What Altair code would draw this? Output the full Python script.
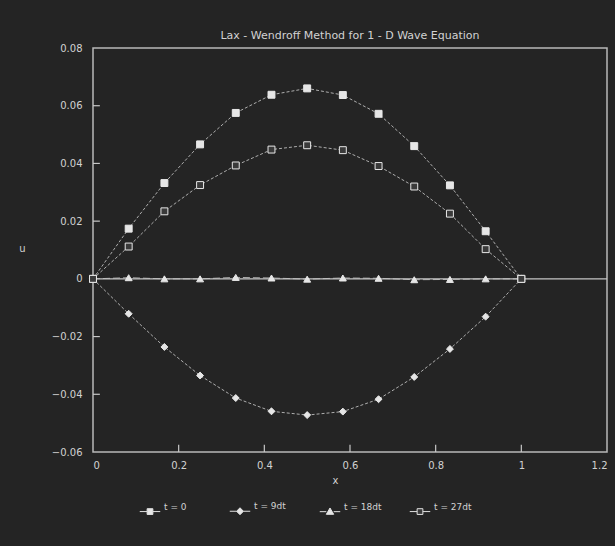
import altair as alt
import pandas as pd

# ---- data ----
x_vals = [0.0, 0.0833, 0.1667, 0.25, 0.3333, 0.4167, 0.5, 0.5833, 0.6667, 0.75, 0.8333, 0.9167, 1.0]
u_t0 = [0.0, 0.0174, 0.0332, 0.0466, 0.0575, 0.0638, 0.0660, 0.0637, 0.0572, 0.0460, 0.0324, 0.0165, 0.0]
u_t9 = [0.0, -0.0121, -0.0236, -0.0335, -0.0413, -0.0459, -0.0472, -0.0460, -0.0417, -0.0340, -0.0243, -0.0131, 0.0]
u_t18 = [0.0, 0.0004, 0.0, 0.0, 0.0005, 0.0003, -0.0001, 0.0003, 0.0002, -0.0003, -0.0002, 0.0, 0.0]
u_t27 = [0.0, 0.0112, 0.0234, 0.0325, 0.0393, 0.0448, 0.0463, 0.0446, 0.0391, 0.0320, 0.0226, 0.0103, 0.0]
series_names = ["t = 0", "t = 9dt", "t = 18dt", "t = 27dt"]
x_ticks = [0, 0.2, 0.4, 0.6, 0.8, 1.0, 1.2]
y_ticks = [-0.06, -0.04, -0.02, 0, 0.02, 0.04, 0.06, 0.08]
x_inner_ticks = [0.2, 0.4, 0.6, 0.8, 1.0]
y_inner_ticks = [-0.04, -0.02, 0.02, 0.04, 0.06]
title_text = "Lax - Wendroff Method for 1 - D Wave Equation"

rows = []
for name, vals in zip(series_names, [u_t0, u_t9, u_t18, u_t27]):
    for xv, uv in zip(x_vals, vals):
        rows.append({"x": xv, "u": uv, "series": name})
df = pd.DataFrame(rows)
zero_df = pd.DataFrame({"u": [0.0]})
xt_df = pd.DataFrame({"v": x_inner_ticks})
yt_df = pd.DataFrame({"v": y_inner_ticks})

FG = "#d2d2d2"
BG = "#242424"
FONT = "DejaVu Sans"
FILLS = ["#e6e6e6", "#e6e6e6", "#e6e6e6", "#3a3a3a"]

xscale = alt.Scale(domain=[0, 1.2], nice=False, zero=False)
yscale = alt.Scale(domain=[-0.06, 0.08], nice=False, zero=False)

lines = alt.Chart(df).mark_line(color="#bdbdbd", opacity=0.9).encode(
    x=alt.X("x:Q", scale=xscale,
            axis=alt.Axis(values=x_ticks, format="~g", ticks=False, domain=False, grid=False,
                          labelPadding=8, title="x", titleX=242, titleY=28,
                          titleBaseline="middle", titleFontWeight="normal")),
    y=alt.Y("u:Q", scale=yscale,
            axis=alt.Axis(values=y_ticks, format="~g", ticks=False, domain=False, grid=False,
                          labelPadding=11, title="u", titleAngle=0, titleX=-71, titleY=200,
                          titleAlign="center", titleBaseline="middle", titleFontWeight="normal",
                          titleColor="#cfcfcf")),
    detail="series:N",
    strokeDash=alt.StrokeDash("series:N", scale=alt.Scale(domain=series_names,
                              range=[[3, 2], [3, 2], [7, 3], [3, 2]]), legend=None),
    strokeWidth=alt.StrokeWidth("series:N", scale=alt.Scale(domain=series_names,
                                range=[1, 1, 2.6, 1]), legend=None),
)

zero_rule = alt.Chart(zero_df).mark_rule(color="#c4c4c4", strokeWidth=1.2).encode(
    y=alt.Y("u:Q", scale=yscale)
)

y_tick_rules = alt.Chart(yt_df).mark_rule(color="#c8c8c8", strokeWidth=1.2).encode(
    y=alt.Y("v:Q", scale=yscale),
    x=alt.datum(0.0, scale=xscale), x2=alt.datum(0.016),
)
x_tick_rules = alt.Chart(xt_df).mark_rule(color="#c8c8c8", strokeWidth=1.2).encode(
    x=alt.X("v:Q", scale=xscale),
    y=alt.datum(-0.06, scale=yscale), y2=alt.datum(-0.0575),
)

points = alt.Chart(df).mark_point(filled=True, stroke="#e8e8e8", strokeWidth=1, opacity=1).encode(
    x=alt.X("x:Q", scale=xscale),
    y=alt.Y("u:Q", scale=yscale),
    shape=alt.Shape("series:N", scale=alt.Scale(domain=series_names,
                    range=["square", "diamond", "triangle-up", "square"]), legend=None),
    fill=alt.Fill("series:N", scale=alt.Scale(domain=series_names, range=FILLS), legend=None),
    size=alt.Size("series:N", scale=alt.Scale(domain=series_names, range=[48, 48, 62, 45]), legend=None),
)

sq = "M-1,0H-0.28M0.28,0H1M-0.28,-0.28H0.28V0.28H-0.28Z"
dm = "M-1,0H-0.34M0.34,0H1M0,-0.34L0.34,0L0,0.34L-0.34,0Z"
tr = "M-1,0H-0.36M0.36,0H1M0,-0.36L0.36,0.26L-0.36,0.26Z"
leg = alt.Legend(orient="none", legendX=46, legendY=452, direction="horizontal", columns=4,
                 title=None, symbolSize=420, symbolStrokeWidth=1,
                 symbolOpacity=1, labelColor=FG, labelFont=FONT, labelFontSize=9,
                 labelOffset=3, columnPadding=25, gridAlign="all", labelBaseline="bottom")

legend_layer = alt.Chart(df).mark_point(opacity=0, strokeWidth=1).encode(
    x=alt.X("x:Q", scale=xscale),
    y=alt.Y("u:Q", scale=yscale),
    shape=alt.Shape("series:N", scale=alt.Scale(domain=series_names, range=[sq, dm, tr, sq]), legend=leg),
    fill=alt.Fill("series:N", scale=alt.Scale(domain=series_names, range=FILLS), legend=leg),
    stroke=alt.Stroke("series:N", scale=alt.Scale(domain=series_names,
                      range=["#e0e0e0", "#e0e0e0", "#e0e0e0", "#e0e0e0"]), legend=leg),
)

chart = alt.layer(lines, zero_rule, y_tick_rules, x_tick_rules, points, legend_layer).resolve_scale(
    shape="independent", fill="independent", stroke="independent", size="independent"
).properties(
    width=514, height=404,
    autosize=alt.AutoSizeParams(type="none"),
    padding={"left": 93, "top": 48, "right": 8, "bottom": 94},
    background=BG,
    title=alt.Title(title_text, fontSize=11, color=FG, font=FONT, fontWeight="normal",
                    anchor="middle", offset=2),
).configure_view(
    stroke="#b8b8b8", strokeWidth=1.5
).configure_axis(
    labelColor=FG, labelFont=FONT, labelFontSize=10, titleColor=FG, titleFont=FONT, titleFontSize=10
)

chart.save("out.html", embed_options={"renderer": "svg", "actions": False})
